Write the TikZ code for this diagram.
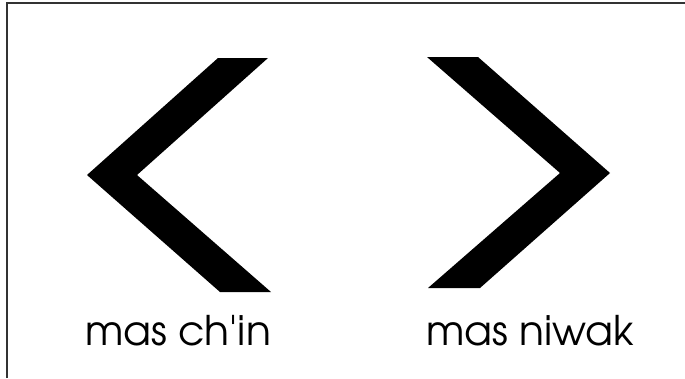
\documentclass[tikz,border=0pt]{standalone}
\usepackage{fontspec}
\setmainfont{TeX Gyre Adventor}[Ligatures=TeXOff]
\begin{document}
\begin{tikzpicture}[x=1bp,y=-1bp,
  frameline/.style={draw=black!80,line width=1.5bp},
  chevron/.style={fill=black,draw=none},
  lbl/.style={anchor=base,inner sep=0pt,font=\fontsize{41}{44}\selectfont}]
\useasboundingbox (0,0) rectangle (685,378);
\draw[frameline] (7,378) -- (7,3) -- (686,3);
\fill[chevron] (218,58) -- (268,58) -- (137,175) -- (271,292) -- (220,292) -- (87,175) -- cycle;
\fill[chevron] (427,57) -- (478,57) -- (610,173) -- (480,288) -- (428,288) -- (560,173) -- cycle;
\node[lbl] (lt) at (178,345) {mas ch'in};
\node[lbl] (rt) at (530,345) {mas niwak};
\end{tikzpicture}
\end{document}
